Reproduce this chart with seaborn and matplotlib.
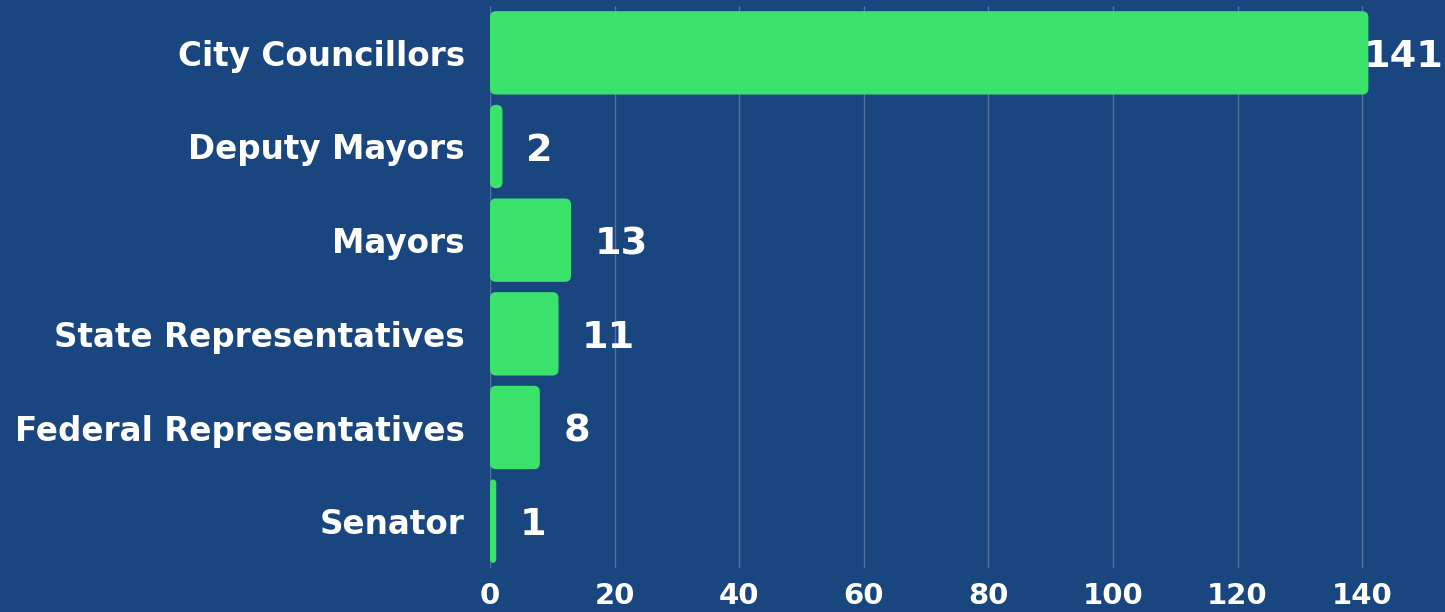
import matplotlib
matplotlib.use("Agg")
import matplotlib.pyplot as plt
from matplotlib.patches import FancyBboxPatch
import seaborn as sns
import pandas as pd

# Elected officials by office
offices = ["City Councillors", "Deputy Mayors", "Mayors",
           "State Representatives", "Federal Representatives", "Senator"]
counts = [141, 2, 13, 11, 8, 1]
x_ticks = [0, 20, 40, 60, 80, 100, 120, 140]

BG = "#19467f"
GREEN = "#3ae26b"
GRID = "#52729f"
FONT = ["DejaVu Sans"]

sns.set_theme(style="white")
plt.rcParams["font.family"] = FONT
plt.rcParams["font.weight"] = "bold"

df = pd.DataFrame({"office": offices, "count": counts})

W, H = 1445, 612
fig = plt.figure(figsize=(W / 100, H / 100), dpi=100, facecolor=BG)
ax = fig.add_axes([490 / W, 1 - 568 / H, 1 - 490 / W, (568 - 6) / H])
ax.set_facecolor(BG)

sns.barplot(data=df, x="count", y="office", orient="h", color=GREEN,
            width=0.89, saturation=1, ax=ax, zorder=3)

ax.set_xlim(0, 153.3)
ax.set_ylim(5.5, -0.5)

# Rounded bar ends
px_x = ax.get_window_extent().width / (ax.get_xlim()[1] - ax.get_xlim()[0])
px_y = ax.get_window_extent().height / 6.0
radius_px = 6
for bar in list(ax.patches):
    x0, y0 = bar.get_x(), bar.get_y()
    w, h = bar.get_width(), bar.get_height()
    rs = min(radius_px / px_x, w / 2)
    rounded = FancyBboxPatch((x0, y0), w, h,
                             boxstyle=f"round,pad=0,rounding_size={rs}",
                             mutation_aspect=(px_x / px_y),
                             facecolor=GREEN, edgecolor="none", zorder=3)
    bar.remove()
    ax.add_patch(rounded)

# Value labels, kept inside the canvas
labels = []
for i, v in enumerate(counts):
    t = ax.annotate(f"{v}", xy=(v, i), xytext=(17, -3), textcoords="offset points",
                    ha="left", va="center", color="white", fontsize=27.5,
                    fontweight="bold", annotation_clip=False)
    labels.append(t)

ax.set_xticks(x_ticks)
ax.set_xticklabels([str(t) for t in x_ticks])
ax.grid(axis="x", color=GRID, linewidth=1, zorder=0)
ax.grid(axis="y", visible=False)
for s in ax.spines.values():
    s.set_visible(False)

ax.tick_params(axis="x", length=0, pad=10, labelsize=21, labelcolor="white")
ax.tick_params(axis="y", length=0, pad=18, labelsize=23.5, labelcolor="white")
for lab in ax.get_xticklabels() + ax.get_yticklabels():
    lab.set_fontweight("bold")

ax.set_xlabel("")
ax.set_ylabel("")

fig.canvas.draw()
renderer = fig.canvas.get_renderer()
for t in labels:
    bb = t.get_window_extent(renderer)
    overflow = bb.x1 - (W - 1)
    if overflow > 0:
        ox, oy = t.xyann
        t.xyann = (ox - overflow * 72 / 100, oy)

fig.savefig("out.png", dpi=100, facecolor=BG)
